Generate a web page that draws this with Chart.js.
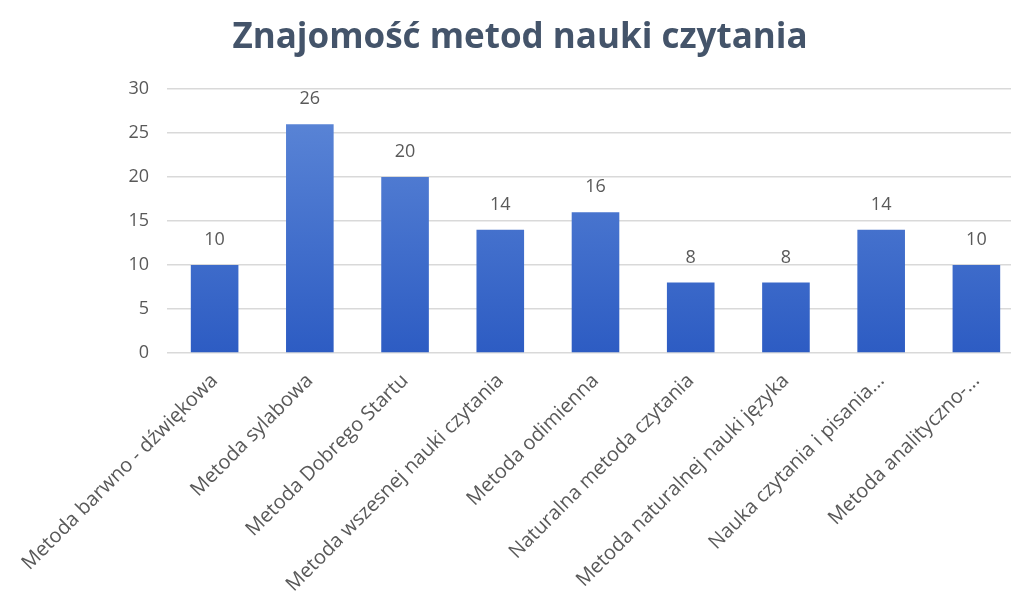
<!DOCTYPE html>
<html>
<head>
<meta charset="utf-8">
<script src="https://cdn.jsdelivr.net/npm/chart.js@4/dist/chart.umd.min.js"></script>
<style>
  html, body { margin: 0; padding: 0; background: #fff; overflow: hidden; }
  #wrap { width: 1024px; height: 604px; position: relative; }
</style>
</head>
<body>
<div id="wrap"><canvas id="metodyChart"></canvas></div>
<script>
// dane z wykresu
const kategorie = [
    'Metoda barwno - dźwiękowa',
    'Metoda sylabowa',
    'Metoda Dobrego Startu',
    'Metoda wszesnej nauki czytania',
    'Metoda odimienna',
    'Naturalna metoda czytania',
    'Metoda naturalnej nauki języka',
    'Nauka czytania i pisania...',
    'Metoda analityczno-...'
];
const wartosci = [10, 26, 20, 14, 16, 8, 8, 14, 10];
const yTicks = [0, 5, 10, 15, 20, 25, 30];

const tytul = 'Znajomość metod nauki czytania';
const szary = '#595959';

// etykiety z wartościami nad słupkami
const etykietyPlugin = {
    id: 'etykiety',
    afterDatasetsDraw(chart) {
        const ctx = chart.ctx;
        const meta = chart.getDatasetMeta(0);
        ctx.save();
        ctx.fillStyle = szary;
        ctx.font = '18px "Open Sans"';
        ctx.textAlign = 'center';
        ctx.textBaseline = 'bottom';
        meta.data.forEach(function (bar, i) {
            ctx.fillText(wartosci[i], bar.x, bar.y - 16);
        });
        ctx.restore();
    }
};

function gradient(context) {
    const area = context.chart.chartArea;
    if (!area) return '#4472c4';
    const g = context.chart.ctx.createLinearGradient(0, area.top, 0, area.bottom);
    g.addColorStop(0, '#5f89d8');
    g.addColorStop(1, '#2d5cc3');
    return g;
}

const ctx = document.getElementById('metodyChart');
new Chart(ctx, {
    type: 'bar',
    data: {
        labels: kategorie,
        datasets: [{
            data: wartosci,
            backgroundColor: gradient,
            borderWidth: 0,
            barPercentage: 0.5,
            categoryPercentage: 1.0
        }]
    },
    options: {
        responsive: true,
        maintainAspectRatio: false,
        animation: false,
        layout: { padding: { left: 16, right: 0, top: 0, bottom: 0 } },
        plugins: {
            legend: { display: false },
            tooltip: { enabled: false },
            title: {
                display: true,
                text: tytul,
                color: '#44546a',
                font: { family: '"Open Sans"', size: 35, weight: 'bold' },
                padding: { top: 17, bottom: 30 }
            }
        },
        scales: {
            x: {
                grid: { display: false },
                border: { display: false },
                ticks: {
                    color: szary,
                    font: { family: '"Open Sans"', size: 20 },
                    minRotation: 45,
                    maxRotation: 45,
                    autoSkip: false,
                    padding: 8
                },
                afterFit: function (s) { s.height = 251; }
            },
            y: {
                min: 0,
                max: 30,
                afterBuildTicks: function (s) { s.ticks = yTicks.map(v => ({ value: v })); },
                grid: { color: '#d9d9d9', lineWidth: 1.5, drawTicks: false },
                border: { display: false },
                ticks: {
                    color: szary,
                    font: { family: '"Open Sans"', size: 18 },
                    padding: 18
                },
                afterFit: function (s) { s.width = 151; }
            }
        }
    },
    plugins: [etykietyPlugin]
});
</script>
</body>
</html>
